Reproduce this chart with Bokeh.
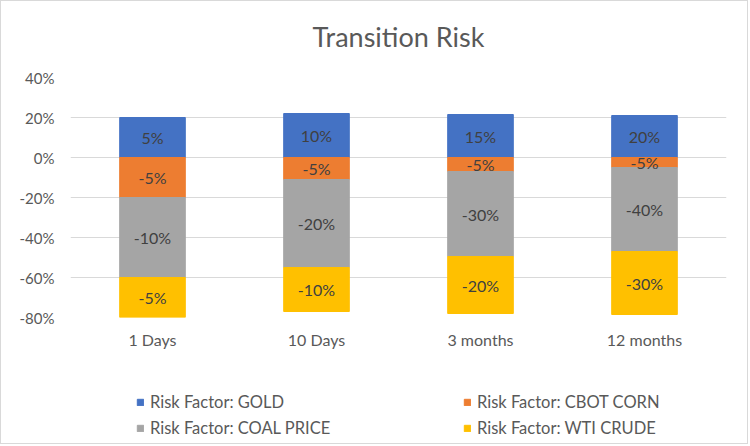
import numpy as np
from bokeh.plotting import figure
from bokeh.layouts import column
from bokeh.models import (FactorRange, Range1d, FixedTicker, NumeralTickFormatter,
                          Legend, LegendItem, ColumnDataSource, Label)
from bokeh.core.properties import value
from bokeh.embed import file_html
from bokeh.resources import INLINE

title_text = "Transition Risk"
categories = ["1 Days", "10 Days", "3 months", "12 months"]
gold = [0.20, 0.22, 0.215, 0.21]
corn = [-0.20, -0.11, -0.07, -0.05]
coal = [-0.40, -0.44, -0.425, -0.42]
wti = [-0.20, -0.22, -0.285, -0.315]

gold_labels = ["5%", "10%", "15%", "20%"]
corn_labels = ["-5%", "-5%", "-5%", "-5%"]
coal_labels = ["-10%", "-20%", "-30%", "-40%"]
wti_labels = ["-5%", "-10%", "-20%", "-30%"]

series_names = ["Risk Factor: GOLD", "Risk Factor: CBOT CORN",
                "Risk Factor: COAL PRICE", "Risk Factor: WTI CRUDE"]
colors = ["#4472C4", "#ED7D31", "#A5A5A5", "#FFC000"]
y_ticks = [-0.8, -0.6, -0.4, -0.2, 0.0, 0.2, 0.4]

FONT = "Lato"


def blank_panel(h):
    f = figure(width=746, height=h, x_range=Range1d(0, 1), y_range=Range1d(0, 1),
               min_border=0, min_border_left=0, min_border_right=0,
               min_border_top=0, min_border_bottom=0,
               output_backend="svg", toolbar_location=None)
    f.axis.visible = False
    f.grid.visible = False
    f.outline_line_color = None
    return f


# title panel
pt = blank_panel(60)
pt.add_layout(Label(x=0.5, y=0.42, text=title_text, text_align="center",
                    text_baseline="middle", text_font=FONT, text_font_size="27px",
                    text_color="#595959"))

# main chart
source = ColumnDataSource(dict(cat=categories, gold=gold, corn=corn, coal=coal, wti=wti))

p = figure(x_range=FactorRange(factors=categories, range_padding=0),
           y_range=Range1d(-0.8, 0.4),
           width=746, height=320,
           min_border_left=69, min_border_right=21,
           min_border_top=16, min_border_bottom=64,
           output_backend="svg", toolbar_location=None)

r_pos = p.vbar_stack(["gold"], x="cat", width=0.4, color=[colors[0]], source=source)
r_neg = p.vbar_stack(["corn", "coal", "wti"], x="cat", width=0.4, color=colors[1:], source=source)

g = np.array(gold)
c1 = np.array(corn)
c2 = np.array(coal)
c3 = np.array(wti)
mids = [g / 2, c1 / 2, c1 + c2 / 2, c1 + c2 + c3 / 2]
labels = [gold_labels, corn_labels, coal_labels, wti_labels]
for m, lab in zip(mids, labels):
    s = ColumnDataSource(dict(x=categories, y=list(m), text=lab))
    p.text(x="x", y="y", text="text", source=s, text_align="center",
           text_baseline="middle", text_font=value(FONT), text_font_size="16px",
           text_color="#404040")

p.outline_line_color = None
p.xgrid.visible = False
p.ygrid.ticker = FixedTicker(ticks=y_ticks)
p.ygrid.grid_line_color = "#d9d9d9"
p.ygrid.grid_line_width = 1

p.yaxis.ticker = FixedTicker(ticks=y_ticks)
p.yaxis.formatter = NumeralTickFormatter(format="0%")
for ax in (p.xaxis, p.yaxis):
    ax.axis_line_color = None
    ax.major_tick_line_color = None
    ax.minor_tick_line_color = None
    ax.major_label_text_font = FONT
    ax.major_label_text_color = "#595959"
p.yaxis.major_label_text_font_size = "15px"
p.xaxis.major_label_text_font_size = "16px"
p.yaxis.major_label_standoff = 10
p.xaxis.major_label_standoff = 6

# legend panel (key glyphs placed outside the visible range)
pl = blank_panel(62)
legend_renderers = [pl.vbar(x=[-5], top=[-5], bottom=[-6], width=0.4, color=c) for c in colors]
items = [LegendItem(label=n, renderers=[r]) for n, r in zip(series_names, legend_renderers)]
legend = Legend(items=items, location=(66, 5), orientation="horizontal", ncols=2,
                border_line_color=None, background_fill_alpha=0, padding=0, margin=0,
                spacing=6, label_standoff=6, glyph_width=8, glyph_height=8,
                label_width=307, label_height=17, label_text_font=FONT,
                label_text_font_size="16.5px", label_text_color="#595959")
pl.add_layout(legend)

layout = column(pt, p, pl, spacing=0)
layout.styles = {"border": "1px solid #d9d9d9"}

open("out.html", "w").write(file_html(layout, INLINE))
